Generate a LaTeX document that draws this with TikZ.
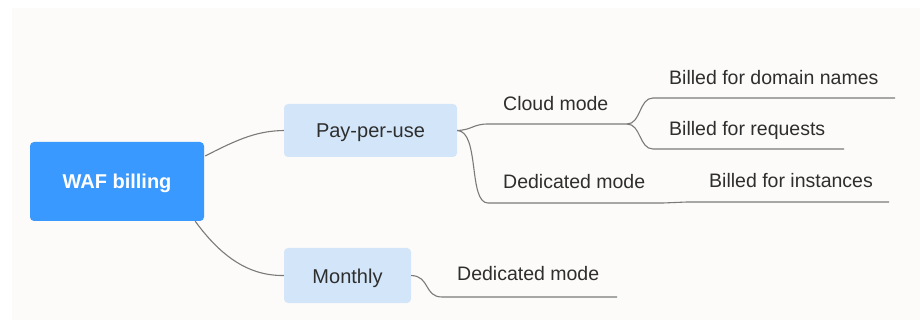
\documentclass[tikz,border=0pt]{standalone}
\usepackage{fontspec}
\setmainfont{Liberation Sans}
\definecolor{bgc}{HTML}{FCFBF9}
\definecolor{rootc}{HTML}{3A99FF}
\definecolor{subc}{HTML}{D3E6F9}
\definecolor{linec}{HTML}{7A7A7A}
\definecolor{txtc}{HTML}{2E2E2E}
\begin{document}
\begin{tikzpicture}[x=1pt,y=-1pt,
  rootbox/.style={fill=rootc,rounded corners=4pt,text=white,font=\fontsize{20}{24}\selectfont\bfseries,inner sep=0pt,text height=16pt,text depth=1pt},
  subbox/.style={fill=subc,rounded corners=4pt,text=txtc,font=\fontsize{20}{24}\selectfont,inner sep=0pt,text height=16pt,text depth=1pt},
  leaf/.style={anchor=west,text=txtc,font=\fontsize{19.5}{23}\selectfont,inner sep=0pt},
  conn/.style={draw=linec,line width=1.1pt}]
\useasboundingbox (0,0) rectangle (920,320);
\fill[white] (0,0) rectangle (920,320);
\fill[bgc] (12,8) rectangle (920,320);
% nodes
\node[rootbox,minimum width=174pt,minimum height=79pt] (root) at (117,181.5) {WAF billing};
\node[subbox,minimum width=173pt,minimum height=53pt] (ppu) at (370.5,130.5) {Pay-per-use};
\node[subbox,minimum width=127pt,minimum height=55pt] (mon) at (347.5,275.5) {Monthly};
\node[leaf] (cloud) at (503,104) {Cloud mode};
\node[leaf] (ded1) at (503,182) {Dedicated mode};
\node[leaf] (dom) at (669,78) {Billed for domain names};
\node[leaf] (req) at (669,130) {Billed for requests};
\node[leaf] (inst) at (709,181) {Billed for instances};
\node[leaf] (ded2) at (457,274) {Dedicated mode};
% line coordinates
\coordinate (cloudA) at (488,124);
\coordinate (cloudB) at (627,124);
\coordinate (domA) at (653,98);
\coordinate (domB) at (895,98);
\coordinate (reqA) at (653,149);
\coordinate (reqB) at (844,149);
\coordinate (dedA) at (488,203);
\coordinate (dedB) at (663,203);
\coordinate (instA) at (687,202);
\coordinate (instB) at (889,202);
\coordinate (ded2A) at (442,297);
\coordinate (ded2B) at (617,297);
% connectors
\draw[conn] ([yshift=25.5pt,xshift=1pt]root.east) .. controls (240,138) and (258,131) .. (ppu.west);
\draw[conn] ([xshift=-9pt]root.south east) .. controls (222,258) and (250,276) .. (mon.west);
\draw[conn] (ppu.east) .. controls (472,130) and (473,124) .. (cloudA) -- (cloudB);
\draw[conn] (ppu.east) .. controls (480,131) and (468,203) .. (dedA) -- (dedB) .. controls (675,203) and (675,202) .. (instA) -- (instB);
\draw[conn] (cloudB) .. controls (641,124) and (639,98) .. (domA) -- (domB);
\draw[conn] (cloudB) .. controls (641,124) and (639,149) .. (reqA) -- (reqB);
\draw[conn] (mon.east) .. controls (430,276) and (424,297) .. (ded2A) -- (ded2B);
\end{tikzpicture}
\end{document}
